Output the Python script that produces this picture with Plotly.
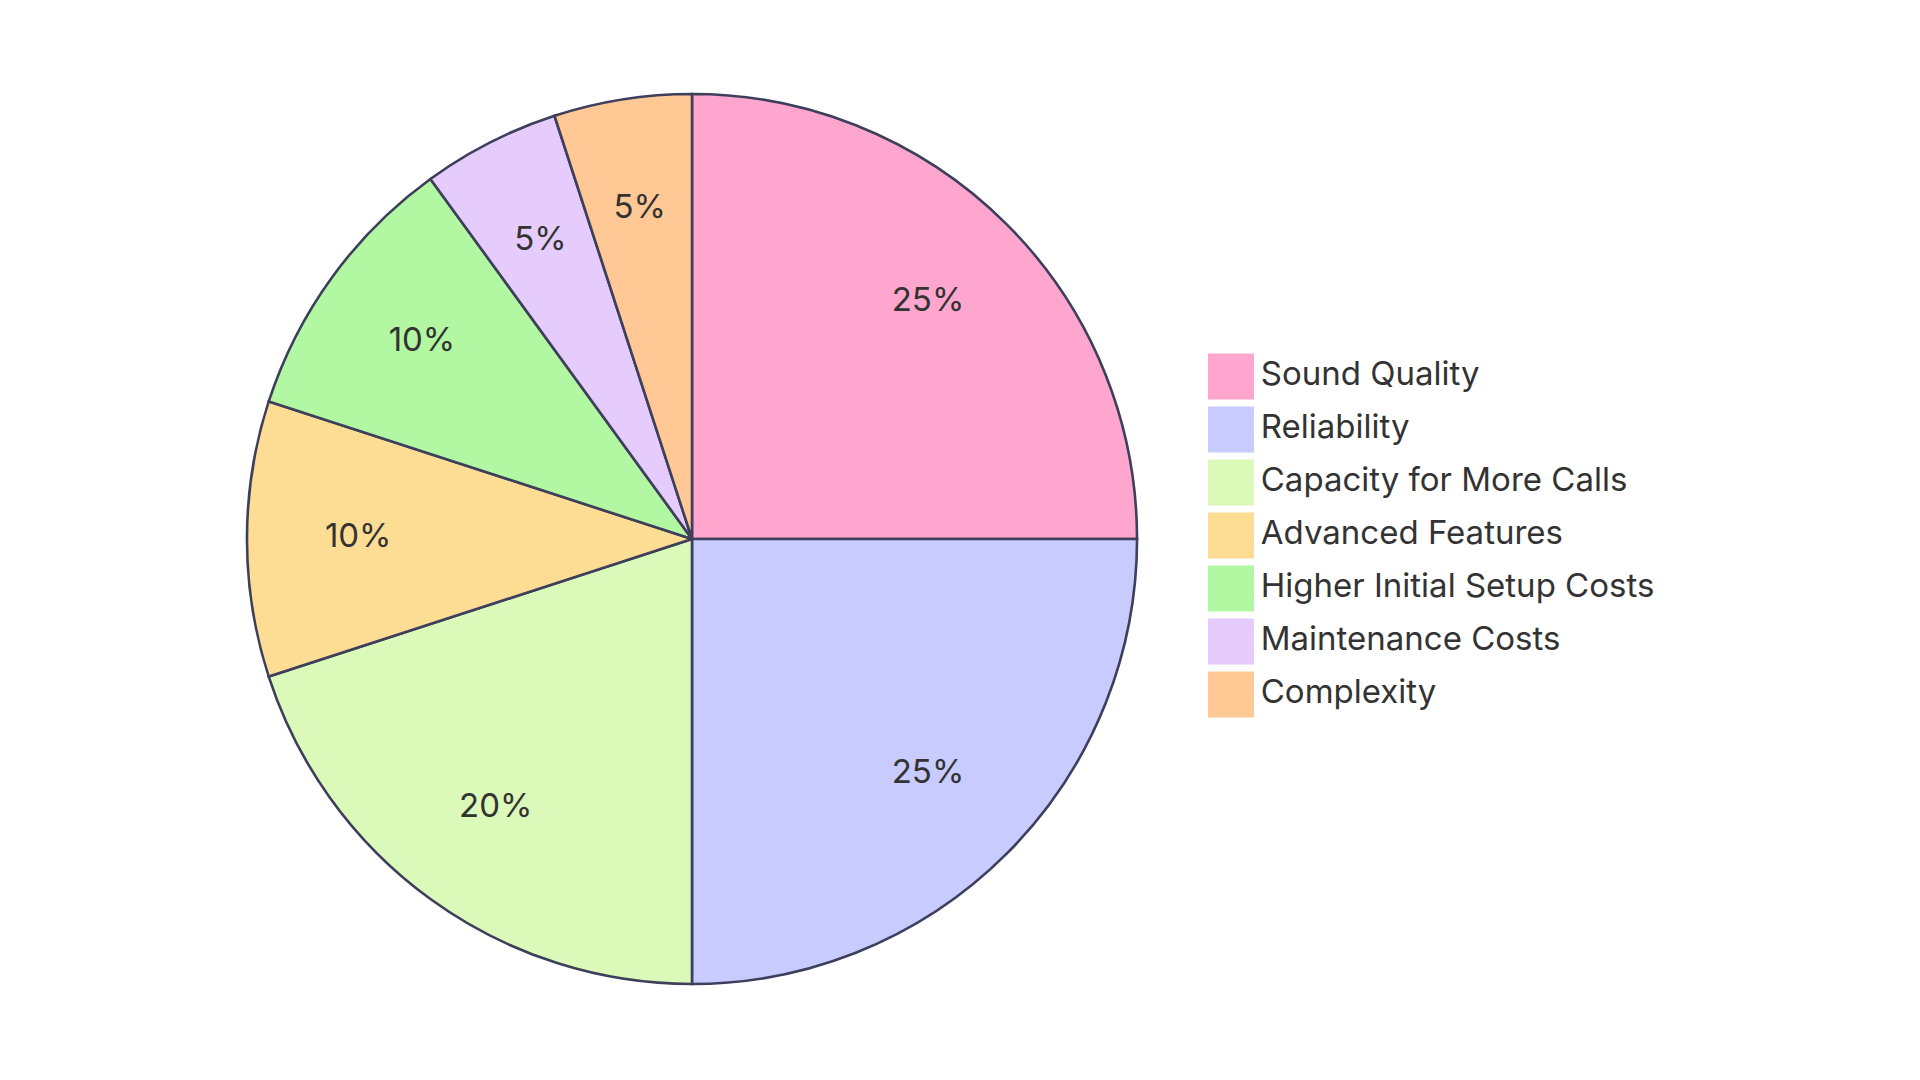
import plotly.graph_objects as go

# slices in drawing order (clockwise from 12 o'clock)
labels = ['Sound Quality', 'Reliability', 'Capacity for More Calls', 'Advanced Features',
          'Higher Initial Setup Costs', 'Maintenance Costs', 'Complexity']
shares = [25, 25, 20, 10, 10, 5, 5]
colors = ['#FFA6CE', '#C8CBFE', '#DBF9B9', '#FDDD93', '#B2F7A1', '#E5CCFC', '#FFC894']
legend_rows = list(range(len(labels)))

FONT = 'Inter'
TEXT_COLOR = '#333333'
EDGE = '#3D3F5C'

# angular position of each slice (degrees, clockwise from top)
total = sum(shares)
widths = [s / total * 360 for s in shares]
mids = []
start = 0
for w in widths:
    mids.append(start + w / 2)
    start += w
pct_text = [f'{round(s / total * 100)}%' for s in shares]

fig = go.Figure()

# pie drawn as polar wedges so the labels can sit at 3/4 radius above them
fig.add_trace(go.Barpolar(
    r=[1] * len(labels), theta=mids, width=widths,
    marker=dict(color=colors, line=dict(color=EDGE, width=2.6)),
    hoverinfo='skip', showlegend=False,
))
fig.add_trace(go.Scatterpolar(
    r=[0.75] * len(labels), theta=mids, mode='text', text=pct_text,
    textposition='middle center',
    textfont=dict(family=FONT, size=33, color=TEXT_COLOR),
    hoverinfo='skip', showlegend=False,
))

# legend built as square markers so the swatches can be large
fig.add_trace(go.Scatter(
    x=[0] * len(labels), y=legend_rows, mode='markers+text',
    marker=dict(symbol='square', size=46, color=colors, line=dict(width=0)),
    text=labels, textposition='middle right',
    textfont=dict(family=FONT, size=33, color=TEXT_COLOR),
    cliponaxis=False, hoverinfo='skip', showlegend=False,
))

fig.update_layout(
    width=1920, height=1080,
    margin=dict(l=0, r=0, t=0, b=0),
    paper_bgcolor='white', plot_bgcolor='rgba(0,0,0,0)',
    polar=dict(
        # slightly larger frame than the pie so the outer edge line is not clipped
        domain=dict(x=[234.5 / 1920, 1133.5 / 1920], y=[1 - 980.5 / 1080, 1 - 81.5 / 1080]),
        bgcolor='rgba(0,0,0,0)', hole=0,
        radialaxis=dict(range=[0, 1.01], visible=False),
        angularaxis=dict(rotation=90, direction='clockwise', visible=False),
    ),
    xaxis=dict(domain=[1223 / 1920, 0.99], range=[0, 1], visible=False, fixedrange=True),
    yaxis=dict(domain=[1 - 686.5 / 1080, 1 - 368.5 / 1080], range=[6, 0], visible=False,
               fixedrange=True),
    font=dict(family=FONT),
)

fig.write_html("out.html")
